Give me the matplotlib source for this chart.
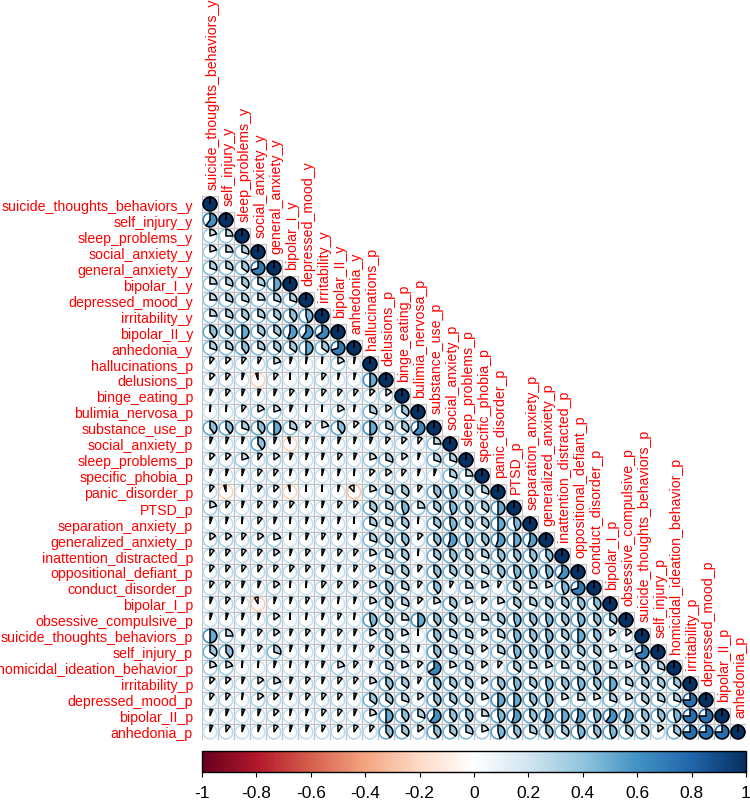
import numpy as np
import matplotlib
matplotlib.use("Agg")
import matplotlib.pyplot as plt
from matplotlib.patches import Wedge, Circle, Rectangle
from matplotlib.colors import LinearSegmentedColormap, Normalize
import matplotlib.colorbar as mcolorbar

plt.rcParams['font.family'] = ['Liberation Sans', 'DejaVu Sans']

labels = ["suicide_thoughts_behaviors_y", "self_injury_y", "sleep_problems_y", "social_anxiety_y",
          "general_anxiety_y", "bipolar_I_y", "depressed_mood_y", "irritability_y", "bipolar_II_y",
          "anhedonia_y", "hallucinations_p", "delusions_p", "binge_eating_p", "bulimia_nervosa_p",
          "substance_use_p", "social_anxiety_p", "sleep_problems_p", "specific_phobia_p",
          "panic_disorder_p", "PTSD_p", "separation_anxiety_p", "generalized_anxiety_p",
          "inattention_distracted_p", "oppositional_defiant_p", "conduct_disorder_p", "bipolar_I_p",
          "obsessive_compulsive_p", "suicide_thoughts_behaviors_p", "self_injury_p",
          "homicidal_ideation_behavior_p", "irritability_p", "depressed_mood_p", "bipolar_II_p",
          "anhedonia_p"]

# lower-triangle correlations, row i holds columns 1..i-1
r02 = [0.60]
r03 = [0.20, 0.25]
r04 = [0.20, 0.25, 0.30]
r05 = [0.30, 0.30, 0.35, 0.70]
r06 = [0.25, 0.30, 0.35, 0.30, 0.50]
r07 = [0.25, 0.30, 0.30, 0.25, 0.30, 0.30]
r08 = [0.25, 0.30, 0.35, 0.30, 0.35, 0.40, 0.45]
r09 = [0.40, 0.35, 0.50, 0.35, 0.35, 0.55, 0.60, 0.65]
r10 = [0.30, 0.30, 0.40, 0.30, 0.35, 0.35, 0.50, 0.35, 0.70]
r11 = [0.10, 0.12, 0.10, 0.08, 0.20, 0.05, 0.03, 0.02, 0.18, 0.03]
r12 = [0.12, 0.10, 0.05, -0.05, 0.10, 0.01, 0.04, 0.10, 0.04, 0.04, 0.50]
r13 = [0.06, 0.10, 0.06, 0.06, 0.06, 0.10, 0.06, 0.10, 0.10, 0.10, 0.12, 0.15]
r14 = [0.02, 0.02, 0.10, 0.18, 0.20, 0.06, 0.02, 0.01, 0.18, 0.03, 0.30, 0.15, 0.35]
r15 = [0.40, 0.40, 0.30, 0.40, 0.50, 0.30, 0.12, 0.20, 0.40, 0.12, 0.50, 0.30, 0.35, 0.62]
r16 = [0.06, 0.06, 0.05, 0.40, 0.06, -0.05, 0.05, 0.05, 0.06, 0.05, 0.06, 0.10, 0.12, 0.10, 0.25]
r17 = [0.12, 0.12, 0.20, 0.10, 0.15, 0.06, 0.05, 0.05, 0.10, 0.06, 0.20, 0.30, 0.15, 0.05, 0.30, 0.30]
r18 = [0.05, 0.05, 0.05, 0.10, 0.10, 0.04, 0.05, 0.04, 0.05, 0.02, 0.12, 0.15, 0.10, 0.05, 0.05, 0.30,
       0.25]
r19 = [0.10, -0.05, 0.02, 0.10, 0.12, -0.04, 0.01, 0.01, 0.04, -0.12, 0.20, 0.30, 0.35, 0.10, 0.40,
       0.45, 0.35, 0.30]
r20 = [0.20, 0.10, 0.05, 0.10, 0.08, 0.10, 0.05, 0.05, 0.10, 0.10, 0.35, 0.30, 0.45, 0.25, 0.35, 0.45,
       0.40, 0.35, 0.50]
r21 = [0.05, 0.05, 0.02, 0.10, 0.06, 0.02, 0.05, 0.05, 0.05, 0.01, 0.30, 0.30, 0.35, 0.02, 0.35, 0.45,
       0.35, 0.35, 0.50, 0.45]
r22 = [0.15, 0.15, 0.10, 0.15, 0.20, 0.02, 0.06, 0.08, 0.08, 0.05, 0.30, 0.35, 0.40, 0.12, 0.40, 0.55,
       0.45, 0.40, 0.55, 0.50, 0.55]
r23 = [0.10, 0.10, 0.10, 0.10, 0.15, 0.05, 0.10, 0.06, 0.10, 0.10, 0.20, 0.30, 0.35, 0.02, 0.35, 0.40,
       0.35, 0.30, 0.40, 0.40, 0.40, 0.40]
r24 = [0.10, 0.10, 0.10, 0.10, 0.10, 0.10, 0.10, 0.06, 0.06, 0.08, 0.15, 0.30, 0.35, 0.10, 0.40, 0.35,
       0.35, 0.30, 0.40, 0.45, 0.45, 0.45, 0.60]
r25 = [0.10, 0.10, 0.06, 0.06, 0.15, 0.02, 0.02, 0.10, 0.10, 0.10, 0.20, 0.40, 0.30, 0.10, 0.40, 0.08,
       0.25, 0.20, 0.08, 0.35, 0.25, 0.20, 0.45, 0.70]
r26 = [0.06, 0.10, 0.05, -0.08, 0.05, 0.05, 0.08, 0.06, 0.03, 0.05, 0.20, 0.35, 0.30, 0.12, 0.20, 0.35,
       0.20, 0.12, 0.20, 0.35, 0.30, 0.35, 0.35, 0.40, 0.40]
r27 = [0.05, 0.05, 0.05, 0.05, 0.15, 0.01, 0.03, 0.05, 0.08, 0.03, 0.45, 0.35, 0.25, 0.50, 0.40, 0.35,
       0.30, 0.25, 0.35, 0.45, 0.40, 0.45, 0.40, 0.45, 0.40, 0.35]
r28 = [0.50, 0.25, 0.06, 0.10, 0.15, 0.06, 0.10, 0.06, 0.10, 0.06, 0.18, 0.35, 0.20, 0.01, 0.40, 0.30,
       0.30, 0.15, 0.30, 0.45, 0.40, 0.45, 0.35, 0.50, 0.40, 0.15, 0.15]
r29 = [0.35, 0.40, 0.05, 0.10, 0.30, 0.05, 0.05, 0.05, 0.06, 0.05, 0.10, 0.35, 0.25, 0.03, 0.40, 0.30,
       0.30, 0.15, 0.30, 0.45, 0.40, 0.45, 0.40, 0.35, 0.35, 0.20, 0.20, 0.70]
r30 = [0.20, 0.20, 0.02, 0.02, 0.05, 0.03, 0.05, 0.06, 0.20, 0.10, 0.05, 0.30, 0.20, 0.12, 0.65, 0.20,
       0.30, 0.15, 0.10, 0.35, 0.25, 0.20, 0.25, 0.30, 0.45, 0.25, 0.20, 0.40, 0.30]
r31 = [0.12, 0.12, 0.06, 0.15, 0.20, 0.06, 0.10, 0.06, 0.10, 0.10, 0.20, 0.40, 0.35, 0.08, 0.40, 0.35,
       0.35, 0.15, 0.40, 0.45, 0.35, 0.45, 0.40, 0.45, 0.40, 0.50, 0.30, 0.35, 0.35, 0.35]
r32 = [0.10, 0.10, 0.03, 0.15, 0.12, 0.05, 0.10, 0.10, 0.10, 0.06, 0.35, 0.35, 0.30, 0.15, 0.40, 0.35,
       0.35, 0.20, 0.50, 0.50, 0.40, 0.45, 0.20, 0.25, 0.20, 0.30, 0.20, 0.35, 0.30, 0.30, 0.75]
r33 = [0.06, 0.06, 0.06, 0.06, 0.12, 0.04, 0.05, 0.10, 0.10, 0.06, 0.20, 0.50, 0.40, 0.30, 0.60, 0.40,
       0.40, 0.25, 0.45, 0.55, 0.40, 0.55, 0.50, 0.55, 0.45, 0.60, 0.55, 0.40, 0.40, 0.45, 0.75, 0.75]
r34 = [0.06, 0.10, 0.06, 0.06, 0.10, 0.05, 0.06, 0.08, 0.10, 0.10, 0.10, 0.40, 0.35, 0.15, 0.40, 0.35,
       0.30, 0.20, 0.45, 0.40, 0.30, 0.40, 0.35, 0.45, 0.40, 0.45, 0.35, 0.35, 0.15, 0.35, 0.75, 0.75, 0.75]

rows = [[], r02, r03, r04, r05, r06, r07, r08, r09, r10, r11, r12, r13, r14, r15, r16, r17, r18, r19,
        r20, r21, r22, r23, r24, r25, r26, r27, r28, r29, r30, r31, r32, r33, r34]

cbar_ticks = [-1, -0.8, -0.6, -0.4, -0.2, 0, 0.2, 0.4, 0.6, 0.8, 1]
cbar_ticklabels = ["-1", "-0.8", "-0.6", "-0.4", "-0.2", "0", "0.2", "0.4", "0.6", "0.8", "1"]

n = len(labels)
cmap = LinearSegmentedColormap.from_list(
    "corr", ["#67001F", "#B2182B", "#D6604D", "#F4A582", "#FDDBC7", "#FFFFFF",
             "#D1E5F0", "#92C5DE", "#4393C3", "#2166AC", "#053061"], N=200)
norm = Normalize(-1, 1)

W, H = 750, 804
fig = plt.figure(figsize=(W / 100, H / 100), dpi=100)
cell = 16
x0, ytop = 202, 197
ax = fig.add_axes([x0 / W, 1 - (ytop + n * cell) / H, n * cell / W, n * cell / H])
ax.set_xlim(0.5, n + 0.5)
ax.set_ylim(n + 0.5, 0.5)
ax.set_aspect('equal')
for s in ax.spines.values():
    s.set_visible(False)

R = 0.425
for i in range(1, n + 1):
    vals = list(rows[i - 1]) + [1.0]
    for j in range(1, i + 1):
        v = vals[j - 1] if j - 1 < len(vals) else 0.0
        col = cmap(norm(v))
        ring = cmap(norm(np.sign(v) * (0.18 + 0.82 * abs(v))))
        ax.add_patch(Rectangle((j - 0.5, i - 0.5), 1, 1, facecolor='white',
                               edgecolor='#C4C4C4', lw=0.9, zorder=1))
        ax.add_patch(Circle((j, i), R, fill=False, edgecolor=ring, lw=1.2, zorder=2))
        ang = min(abs(v) * 360.0, 359.9)
        if ang > 0:
            if v >= 0:
                t1, t2 = -90, -90 + ang
            else:
                t1, t2 = -90 - ang, -90
            ax.add_patch(Wedge((j, i), R, t1, t2, facecolor=col, edgecolor='black',
                               lw=1.1, zorder=3))

ax.set_yticks(range(1, n + 1))
ax.set_yticklabels(labels, color='red', fontsize=10.2)
ax.tick_params(axis='y', length=0, pad=6.5)
ax.set_xticks([])
for j in range(1, n + 1):
    ax.annotate(labels[j - 1], xy=(j, j - 0.5), xytext=(1.5, 5), textcoords='offset points',
                rotation=90, ha='center', va='bottom', color='red', fontsize=10.2,
                annotation_clip=False)

cax = fig.add_axes([x0 / W, 1 - 772.5 / H, n * cell / W, 21 / H])
cb = mcolorbar.ColorbarBase(cax, cmap=cmap, norm=norm, orientation='horizontal',
                            ticks=cbar_ticks)
cb.set_ticklabels(cbar_ticklabels)
cb.outline.set_edgecolor('black')
cb.outline.set_linewidth(1.0)
cax.tick_params(axis='x', length=3.4, width=0.8, labelsize=12.5, pad=6.5, colors='black')

fig.savefig("out.png", dpi=100, facecolor='white')
